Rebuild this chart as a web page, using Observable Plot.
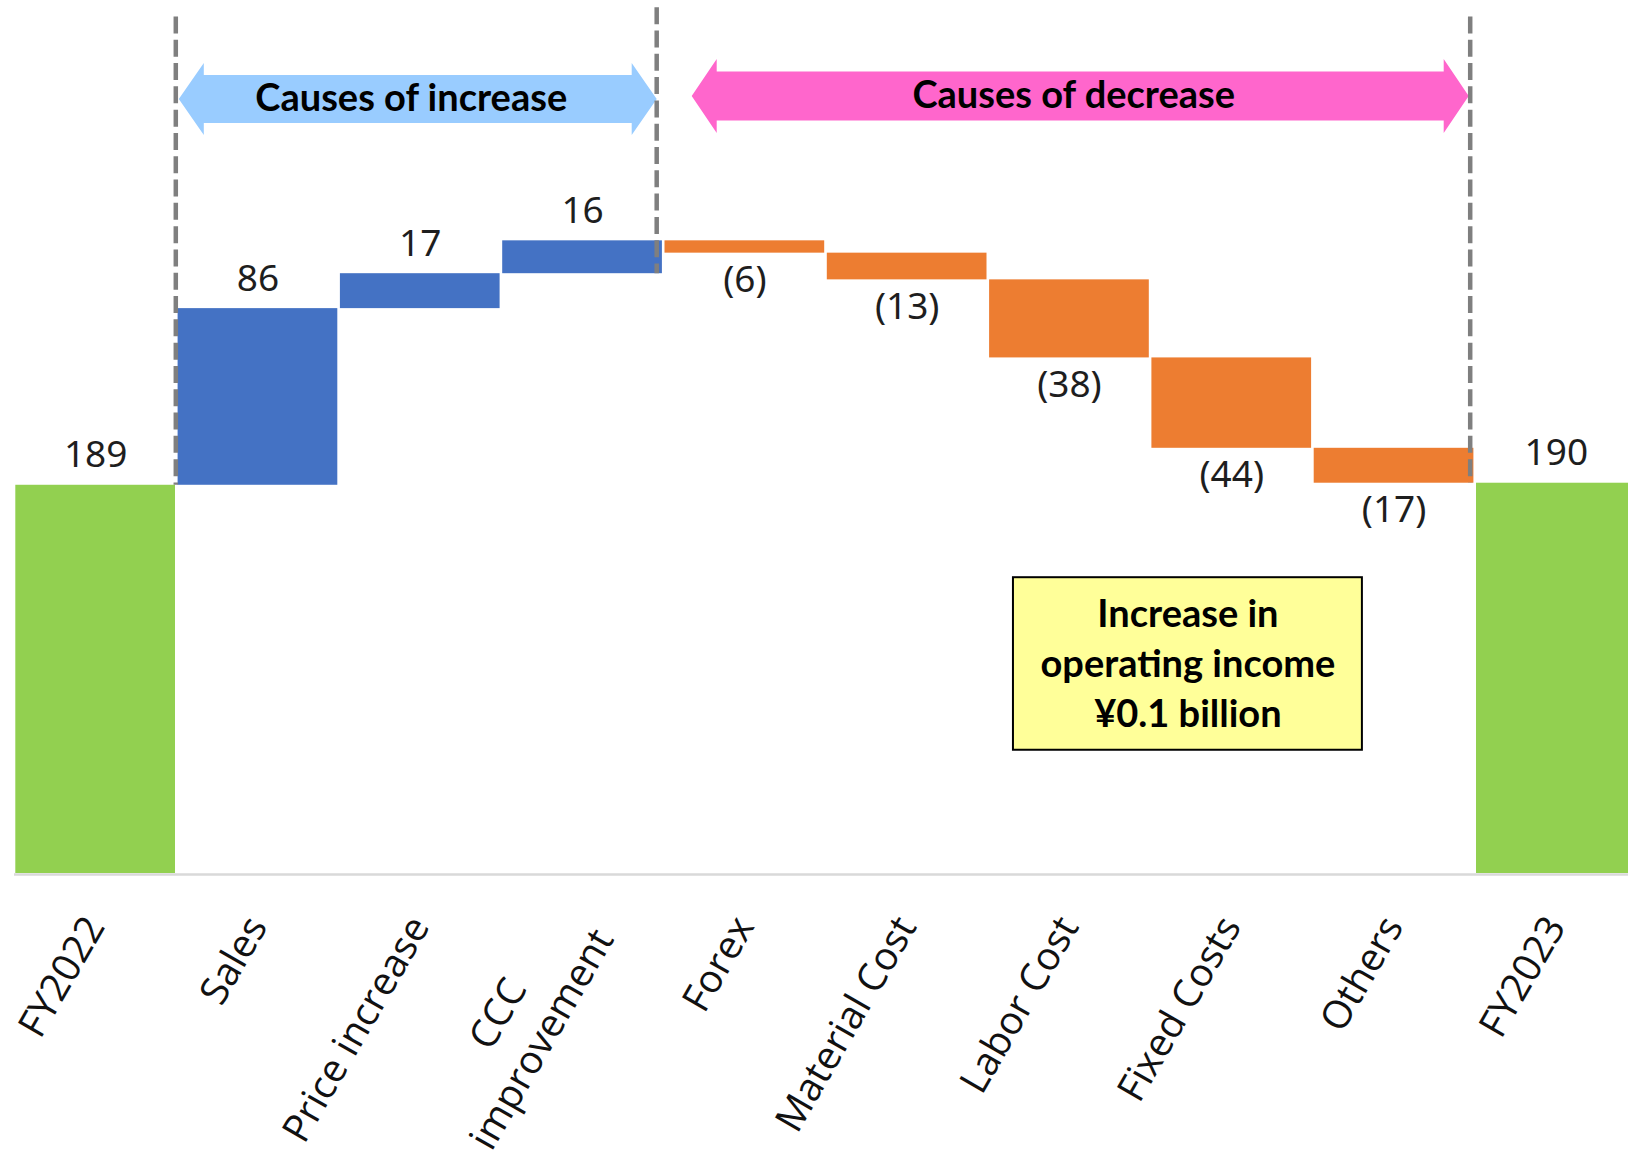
<!DOCTYPE html>
<html>
<head>
<meta charset="utf-8">
<script src="https://cdn.jsdelivr.net/npm/d3@7"></script>
<script src="https://cdn.jsdelivr.net/npm/@observablehq/plot@0.6"></script>
<style>
  html, body { margin: 0; padding: 0; background: #fff; overflow: hidden; }
  #chart svg { display: block; }
</style>
</head>
<body>
<div id="chart"></div>
<script>
// Operating income bridge FY2022 -> FY2023 (units of ¥100 million)
const categories = ["FY2022", "Sales", "Price increase", "CCC\nimprovement", "Forex",
                    "Material Cost", "Labor Cost", "Fixed Costs", "Others", "FY2023"];
const amounts = [189, 86, 17, 16, -6, -13, -38, -44, -17, 190];
const barKinds = ["total", "increase", "increase", "increase", "decrease",
                  "decrease", "decrease", "decrease", "decrease", "total"];
const groupLabels = ["Causes of increase", "Causes of decrease"];
const noteLines = ["Increase in", "operating income", "¥0.1 billion"];

// ---- styling / layout ----
const W = 1628, H = 1158;
const xRange = [14, 1637];         // 10 category slots
const yBase = 873;                 // pixel row of the zero line
const yMax = 425;                  // value at the very top of the svg
const kx = (xRange[1] - xRange[0]) / categories.length;  // px per slot
const ky = yBase / yMax;                                  // px per unit
const colors = {total: "#92D050", increase: "#4472C4", decrease: "#ED7D31"};
const labelFont = 39, labelAngle = 60;
const numberFont = 37;
const boldFont = 38;

// running totals -> floating bars
let level = 0;
const steps = categories.map((name, i) => {
  const kind = barKinds[i], v = amounts[i];
  let y1, y2;
  if (kind === "total") { y1 = 0; y2 = v; level = v; }
  else { y1 = level; y2 = level + v; level = y2; }
  return {i, name, kind, value: v, y1, y2,
          top: Math.max(y1, y2), bottom: Math.min(y1, y2),
          label: v < 0 ? `(${-v})` : `${v}`};
});

// slot boundaries used by the group dividers and arrows
const firstUp = barKinds.indexOf("increase");
const firstDown = barKinds.indexOf("decrease");
const lastTotal = barKinds.lastIndexOf("total");

// dashed group dividers (pixel nudges, top value, bottom value)
const dividers = [
  {pos: firstUp,   nudge: -1, top: 417, bottom: steps[0].top},
  {pos: firstDown, nudge: -7, top: 421.5, bottom: steps[firstDown - 1].y1},
  {pos: lastTotal, nudge: -5, top: 417, bottom: steps[lastTotal].top}
];

// block arrows spanning each group
const arrows = [
  {label: groupLabels[0], from: firstUp, to: firstDown, padL: 2, padR: -7,
   yc: 377, body: 24, head: 36, fill: "#99CCFF"},
  {label: groupLabels[1], from: firstDown, to: lastTotal, padL: 28, padR: -6.5,
   yc: 378.5, body: 24.5, head: 37, fill: "#FF66CC"}
];

function arrowPolygon(a) {
  const x1 = a.from + a.padL / kx, x2 = a.to + a.padR / kx;
  const hl = 25 / kx, bh = a.body / ky, hh = a.head / ky, c = a.yc;
  return [[x1, c], [x1 + hl, c + hh], [x1 + hl, c + bh], [x2 - hl, c + bh],
          [x2 - hl, c + hh], [x2, c], [x2 - hl, c - hh], [x2 - hl, c - bh],
          [x1 + hl, c - bh], [x1 + hl, c - hh], [x1, c]]
    .map(([x, y]) => ({x, y}));
}

// summary note box
const note = {x1: 6.155, x2: 8.305, y1: 60, y2: 144};

// rotated category labels: end of text sits just right of the slot centre
const ctx = document.createElement("canvas").getContext("2d");
ctx.font = `${labelFont}px "Open Sans"`;
const rad = labelAngle * Math.PI / 180;
const dir = [Math.cos(rad), -Math.sin(rad)];
const up = [-Math.sin(rad), -Math.cos(rad)];
const endDx = 7, endDy = 51;
const categoryMarks = steps.map(s => {
  const lines = s.name.split("\n");
  const L = d3.max(lines, t => ctx.measureText(t).width);
  const dx = endDx - (L / 2) * dir[0] + 0.32 * labelFont * up[0];
  const dy = endDy - (L / 2) * dir[1] + 0.32 * labelFont * up[1];
  return Plot.text([s], {
    x: d => d.i + 0.5, y: () => 0, text: "name",
    rotate: -labelAngle, textAnchor: "middle", lineAnchor: "middle",
    lineHeight: 1.3, dx, dy,
    fontSize: labelFont, fontFamily: "'Open Sans', sans-serif", fill: "#111"
  });
});

const chart = Plot.plot({
  width: W, height: H,
  marginLeft: xRange[0], marginRight: 0, marginTop: 0, marginBottom: H - yBase,
  x: {domain: [0, categories.length], range: xRange, axis: null},
  y: {domain: [0, yMax], range: [yBase, 0], axis: null},
  style: {background: "white"},
  marks: [
    Plot.ruleY([0], {stroke: "#D9D9D9", strokeWidth: 2.5, dy: 1}),
    Plot.rect(steps, {
      x1: "i", x2: d => d.i + 1, y1: "y1", y2: "y2",
      fill: d => colors[d.kind], insetLeft: 1.3, insetRight: 1.3
    }),
    // value labels: above rising bars, below falling ones
    Plot.text(steps.filter(d => d.value >= 0), {
      x: d => d.i + 0.5, y: "top", text: "label", dy: -18, lineAnchor: "bottom",
      fontSize: numberFont, fontFamily: "'Noto Sans', sans-serif", fill: "#1e1e1e"
    }),
    Plot.text(steps.filter(d => d.value < 0), {
      x: d => d.i + 0.5, y: "bottom", text: "label", dy: 12.5, lineAnchor: "top",
      fontSize: numberFont, fontFamily: "'Noto Sans', sans-serif", fill: "#1e1e1e"
    }),
    // group arrows
    ...arrows.map(a => Plot.line(arrowPolygon(a), {x: "x", y: "y", fill: a.fill, stroke: "none"})),
    ...arrows.map(a => Plot.text([a], {
      x: d => (d.from + d.padL / kx + d.to + d.padR / kx) / 2, y: "yc", text: "label",
      dx: -6.5, lineAnchor: "middle", fontSize: boldFont, fontWeight: 700,
      fontFamily: "Lato, sans-serif", fill: "#000"
    })),
    // dashed dividers
    ...dividers.map(d => Plot.ruleX([d], {
      x: "pos", y1: "top", y2: "bottom", dx: d.nudge,
      stroke: "#7F7F7F", strokeWidth: 4.5, strokeDasharray: "17,6.3"
    })),
    // note box
    Plot.rect([note], {x1: "x1", x2: "x2", y1: "y1", y2: "y2",
      fill: "#FFFF99", stroke: "#000", strokeWidth: 2}),
    Plot.text([noteLines.join("\n")], {
      x: () => (note.x1 + note.x2) / 2, y: () => (note.y1 + note.y2) / 2,
      text: d => d, dy: -3, lineAnchor: "middle", lineHeight: 1.32,
      fontSize: boldFont, fontWeight: 700, fontFamily: "Lato, sans-serif", fill: "#000"
    }),
    ...categoryMarks
  ]
});

document.getElementById("chart").appendChild(chart);
</script>
</body>
</html>
